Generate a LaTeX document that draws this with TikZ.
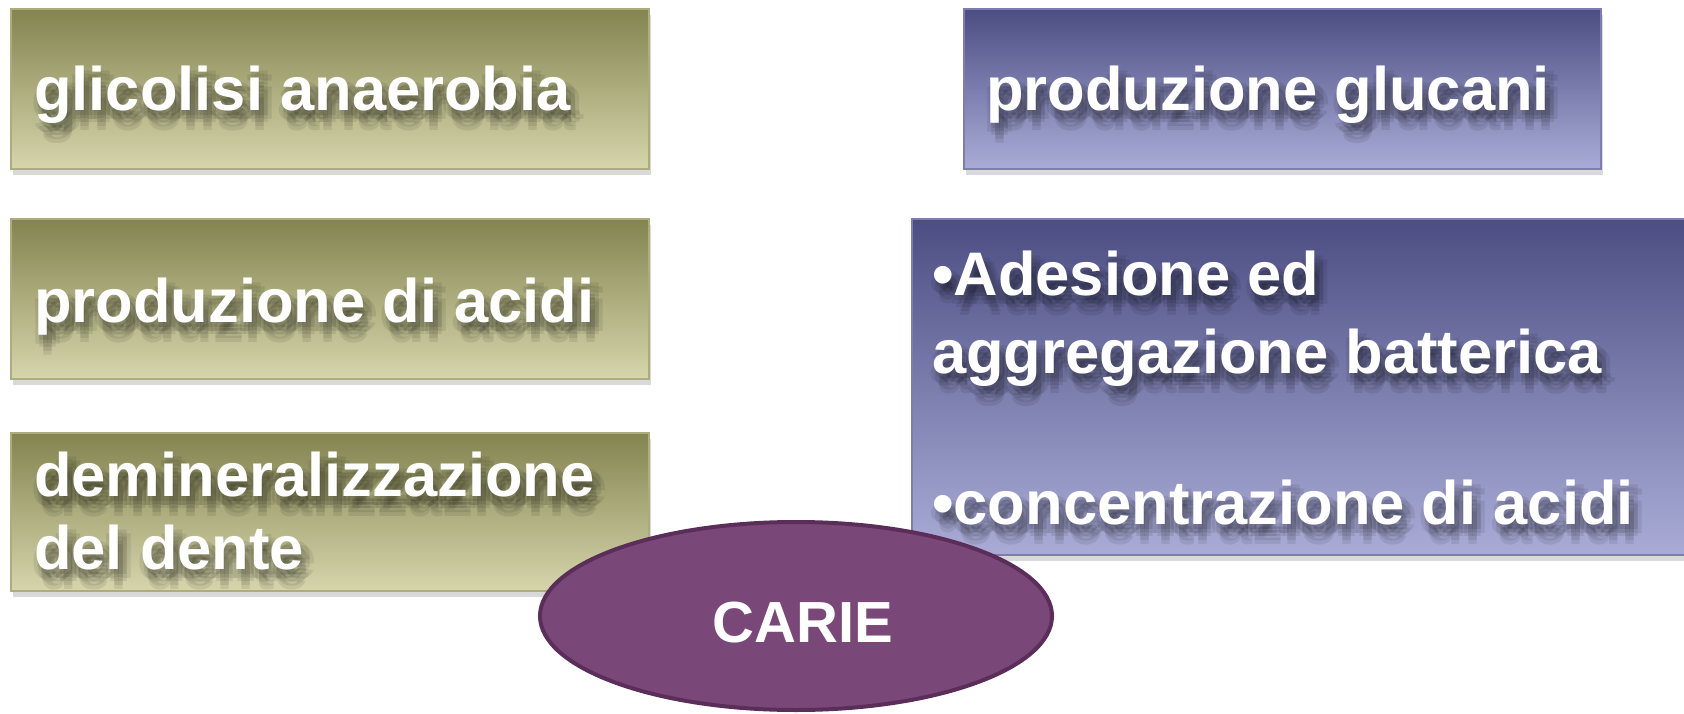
\documentclass[tikz,border=0pt]{standalone}
\usepackage{fontspec}
\setmainfont{Liberation Sans}
\usetikzlibrary{shadows,shapes.geometric}
\definecolor{oliveTop}{HTML}{838450}
\definecolor{oliveBot}{HTML}{D6D5AC}
\definecolor{oliveEdge}{HTML}{ACAC7C}
\definecolor{blueTop}{HTML}{4C4E83}
\definecolor{blueBot}{HTML}{AAACD7}
\definecolor{blueEdge}{HTML}{7C7EB2}
\definecolor{carieFill}{HTML}{7A4878}
\definecolor{carieEdge}{HTML}{5A2E58}
\tikzset{
  boxbase/.style={rectangle, inner sep=0pt, outer sep=0pt, anchor=north west, line width=2pt,
    drop shadow={opacity=0.3, shadow xshift=2pt, shadow yshift=-6pt}},
  olivebox/.style={boxbase, draw=oliveEdge, top color=oliveTop, bottom color=oliveBot},
  bluebox/.style={boxbase, draw=blueEdge, top color=blueTop, bottom color=blueBot},
  txt/.style={text=white, inner sep=0pt, font=\fontsize{61.5}{70}\selectfont\bfseries},
  txtshadow/.style={txt, text=black, text opacity=0.08},
  carietxt/.style={txt, font=\fontsize{58}{70}\selectfont\bfseries},
  carie/.style={ellipse, draw=carieEdge, line width=4pt, fill=carieFill, inner sep=0pt,
    minimum width=512pt, minimum height=188pt}
}
\newcommand{\shtxt}[4]{%
  \foreach \dx/\dy [count=\k] in {5/8,9/12,1/12,5/16,9/5,1/5,13/9,-3/9,5/20} {
    \node[txtshadow, anchor=base west] (#1-s\k) at (#2+\dx,#3+\dy) {#4};
  }
  \node[txt, anchor=base west] (#1) at (#2,#3) {#4};
}
\begin{document}
\begin{tikzpicture}[x=1pt,y=-1pt]
  \useasboundingbox (0,0) rectangle (1684,714);
  \clip (0,0) rectangle (1684,714);
  % left olive boxes
  \node[olivebox, minimum width=638pt, minimum height=160pt] (b1) at (11,9) {};
  \node[olivebox, minimum width=638pt, minimum height=160pt] (b2) at (11,219) {};
  \node[olivebox, minimum width=638pt, minimum height=158pt] (b3) at (11,433) {};
  % right blue boxes
  \node[bluebox, minimum width=637pt, minimum height=160pt] (b4) at (964,9) {};
  \node[bluebox, minimum width=800pt, minimum height=336pt] (b5) at (912,219) {};
  % texts
  \shtxt{t1}{34}{111}{glicolisi anaerobia}
  \shtxt{t2}{34}{322}{produzione di acidi}
  \shtxt{t3a}{34}{496}{demineralizzazione}
  \shtxt{t3b}{34}{569}{del dente}
  \shtxt{t4}{986}{111}{produzione glucani}
  \shtxt{t5a}{932}{295}{•Adesione ed}
  \shtxt{t5b}{932}{373}{aggregazione batterica}
  \shtxt{t5c}{932}{524}{•concentrazione di acidi}
  % ellipse
  \node[carie] (carie) at (796,616) {};
  \node[carietxt, anchor=base] (carieT) at (803,642) {CARIE};
\end{tikzpicture}
\end{document}
